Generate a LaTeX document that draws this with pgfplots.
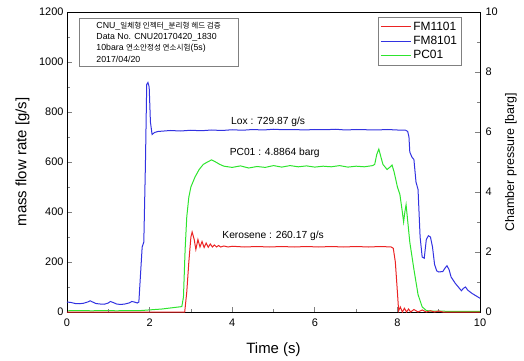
\documentclass[border=0pt]{standalone}
\usepackage{fontspec}
\setmainfont{Liberation Sans}
\newfontfamily\kr{Noto Sans CJK KR}
\usepackage{pgfplots}
\pgfplotsset{compat=1.18}
\definecolor{cred}{RGB}{235,35,35}
\definecolor{cblue}{RGB}{50,50,225}
\definecolor{cgreen}{RGB}{45,228,45}
\begin{document}
\begin{tikzpicture}
\useasboundingbox (-67bp,-49bp) rectangle (457bp,312bp);
\pgfplotsset{
  common/.style={width=413bp, height=300bp, scale only axis, xmin=0, xmax=10,
    tick align=inside, major tick length=5bp, minor tick length=3bp,
    tick label style={font=\fontsize{11}{13}\selectfont},
    /pgf/number format/assume math mode=true,
    /pgf/number format/1000 sep={},
    label style={font=\fontsize{15}{18}\selectfont},
    axis line style={line width=0.8bp}, tick style={line width=0.8bp}},
}
\begin{axis}[common, at={(0,0)}, anchor=south west,
  axis x line=none, axis y line*=right,
  ymin=0, ymax=10, ytick={0,2,...,10}, minor y tick num=1,
  yticklabel style={xshift=2bp},
  ylabel={Chamber pressure [barg]},
  ylabel style={at={(axis description cs:1.075,0.5)}, anchor=center, font=\fontsize{12.5}{15}\selectfont},
]
% PC01 (green), barg
\addplot[cgreen, line width=1bp] coordinates {
(0,0.04) (0.3,0.05) (0.6,0.04) (0.9,0.05) (1.2,0.04) (1.5,0.05) (1.8,0.05) (2.0,0.07) (2.3,0.10)
(2.6,0.15) (2.78,0.18) (2.82,0.5) (2.86,2.08) (2.9,3.17) (2.95,3.83) (3.0,4.17) (3.1,4.5) (3.2,4.75)
(3.3,4.92) (3.4,5.0) (3.5,5.07) (3.6,5.0) (3.7,4.92) (3.8,4.86) (4.0,4.82) (4.2,4.87) (4.4,4.80)
(4.6,4.85) (4.8,4.82) (5.0,4.88) (5.2,4.83) (5.4,4.88) (5.6,4.84) (5.8,4.87) (6.0,4.83) (6.2,4.86)
(6.4,4.84) (6.6,4.88) (6.8,4.83) (7.0,4.86) (7.2,4.84) (7.4,4.88) (7.45,4.92) (7.5,5.25) (7.55,5.43)
(7.6,5.17) (7.65,4.92) (7.75,4.75) (7.82,4.83) (7.87,4.9) (7.92,4.67) (8.0,4.17) (8.06,3.92)
(8.12,3.33) (8.15,3.0) (8.18,3.33) (8.21,3.58) (8.24,3.17) (8.3,2.33) (8.4,1.42) (8.5,0.58)
(8.6,0.17) (8.7,0.05) (8.8,0.03) (9.5,0.02) (10,0.02)
};
\end{axis}
\begin{axis}[common, at={(0,0)}, anchor=south west,
  ymin=0, ymax=1200,
  xtick={0,2,...,10}, minor x tick num=1,
  ytick={0,200,...,1200}, minor y tick num=1,
  xtick pos=bottom, ytick pos=left,
  xticklabel style={yshift=-3bp},
  xlabel={Time (s)}, ylabel={mass flow rate [g/s]},
  xlabel style={at={(axis description cs:0.5,-0.127)}, anchor=center},
  ylabel style={at={(axis description cs:-0.108,0.5)}, anchor=center},
  legend style={at={(rel axis cs:0.956,0.983)}, anchor=north east, draw=gray,
    font=\fontsize{12}{14}\selectfont, row sep=0.5bp, inner sep=2.5bp, cells={anchor=west}},
  legend image code/.code={\draw[mark repeat=2,mark phase=2] plot coordinates {(0bp,0bp) (15bp,0bp) (30bp,0bp)};},
]
% FM1101 (red)
\addplot[cred, line width=1bp] coordinates {
(0,0) (2.85,0) (2.9,80) (2.95,200) (3.0,300) (3.03,320) (3.08,290) (3.12,250) (3.17,290) (3.22,260)
(3.27,282) (3.32,258) (3.37,276) (3.42,259) (3.47,272) (3.52,260) (3.57,268) (3.62,260) (3.67,266)
(3.72,260) (3.8,264) (3.9,260) (4.0,263) (4.3,260) (4.6,262) (4.9,260) (5.2,262) (5.5,260) (5.8,262)
(6.1,260) (6.4,262) (6.7,260) (7.0,262) (7.3,260) (7.6,262) (7.85,260) (7.9,255) (7.95,200) (8.0,80)
(8.03,5) (8.07,20) (8.12,0) (8.17,15) (8.22,0) (8.27,12) (8.32,0) (8.4,10) (8.5,0) (8.6,8) (8.7,0)
(8.8,5) (8.9,0) (9.0,4) (9.1,0) (10,0)
};
\addlegendentry{FM1101}
% FM8101 (blue)
\addplot[cblue, line width=1bp] coordinates {
(0,40) (0.1,38) (0.2,34) (0.3,33) (0.4,35) (0.5,40) (0.56,45) (0.62,40) (0.7,34) (0.8,32) (0.9,31)
(1.0,36) (1.05,42) (1.12,38) (1.2,32) (1.3,30) (1.4,32) (1.5,36) (1.57,42) (1.63,40) (1.7,36) (1.74,40)
(1.78,150) (1.82,260) (1.86,280) (1.9,600) (1.93,910) (1.96,918) (1.99,900) (2.02,760) (2.06,710) (2.12,718)
(2.2,722) (2.5,726) (2.75,724) (3.0,727) (3.25,725) (3.5,728) (3.75,726) (4.0,729) (4.25,727) (4.5,730)
(4.75,728) (5.0,731) (5.25,729) (5.5,730) (5.75,728) (6.0,730) (6.25,729) (6.5,731) (6.75,728) (7.0,730)
(7.25,729) (7.5,728) (7.75,730) (8.0,728) (8.2,727) (8.25,722) (8.28,700) (8.3,640) (8.35,620) (8.4,610)
(8.45,520) (8.5,490) (8.55,300) (8.6,220) (8.65,215) (8.7,290) (8.75,305) (8.8,300) (8.85,260) (8.9,190)
(8.95,165) (9.0,160) (9.1,162) (9.15,175) (9.2,185) (9.25,170) (9.3,140) (9.4,115) (9.5,95) (9.55,85)
(9.6,95) (9.65,100) (9.7,88) (9.8,75) (9.9,65) (10,55)
};
\addlegendentry{FM8101}
\addlegendimage{cgreen, line width=1bp}
\addlegendentry{PC01}
\node[font=\fontsize{10.3}{12}\selectfont] at (axis cs:4.87,762) {Lox : 729.87 g/s};
\node[font=\fontsize{10.3}{12}\selectfont] at (axis cs:5.03,635) {PC01 : 4.8864 barg};
\node[font=\fontsize{10.3}{12}\selectfont] at (axis cs:4.99,304) {Kerosene : 260.17 g/s};
\node[draw=gray, anchor=north west, inner xsep=13bp, inner ysep=3.5bp, align=left,
  minimum width=159bp, font=\fontsize{8.8}{11.5}\selectfont]
  at (rel axis cs:0.029,0.98)
  {CNU\_{\kr\fontsize{7.6}{11.5}\selectfont 일체형 인젝터}\_{\kr\fontsize{7.6}{11.5}\selectfont 분리형 헤드 검증}\\
   Data No. CNU20170420\_1830\\
   10bara {\kr\fontsize{7.6}{11.5}\selectfont 연소안정성 연소시험}(5s)\\
   2017/04/20};
\end{axis}
\end{tikzpicture}
\end{document}
